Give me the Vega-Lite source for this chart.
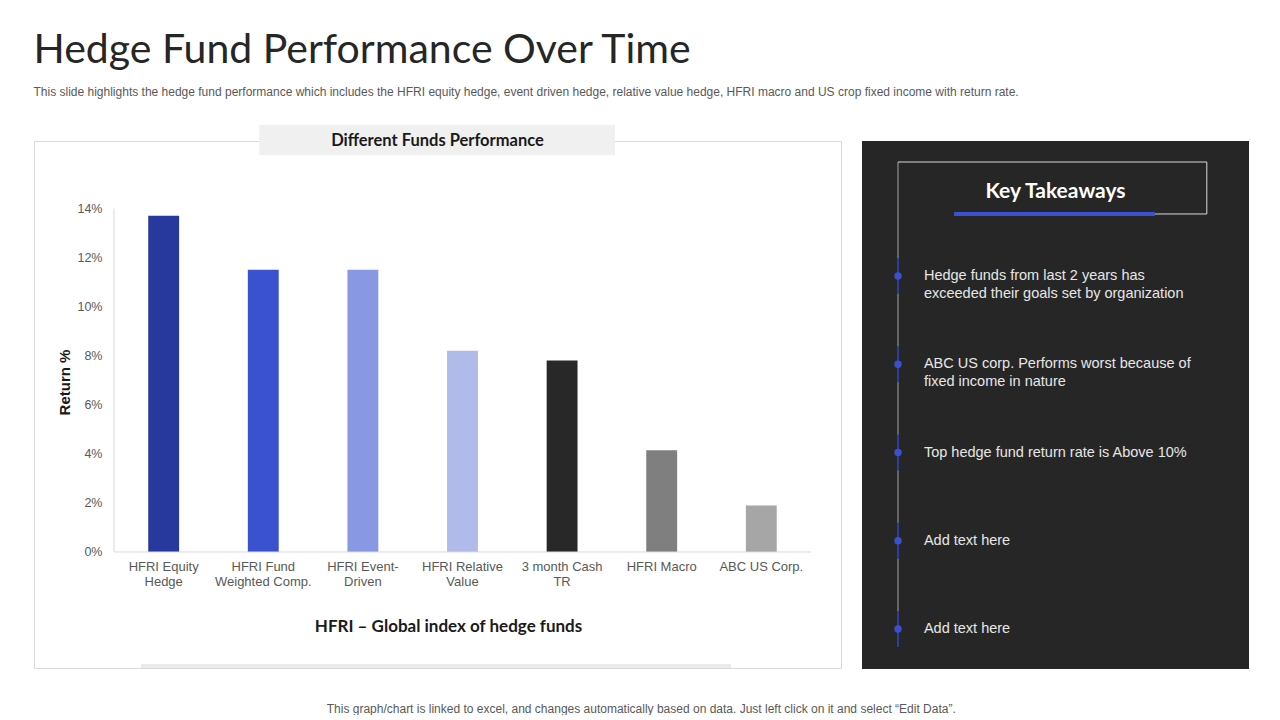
{
  "$schema": "https://vega.github.io/schema/vega-lite/v6.json",
  "background": "#ffffff",
  "padding": {"left": 33, "top": 29, "right": 0, "bottom": 0},
  "title": {
    "text": "Hedge Fund Performance Over Time",
    "subtitle": "This slide highlights the hedge fund performance which includes the HFRI equity hedge, event driven hedge, relative value hedge, HFRI macro and US crop fixed income with return rate.",
    "anchor": "start",
    "font": "Lato",
    "fontSize": 41,
    "fontWeight": "normal",
    "color": "#262626",
    "subtitleFont": "Liberation Sans",
    "subtitleFontSize": 12,
    "subtitleColor": "#595959",
    "subtitlePadding": 15,
    "offset": 26
  },
  "vconcat": [
    {
      "title": {
        "text": "This graph/chart is linked to excel,  and changes automatically based on data. Just left click on it and select “Edit Data”.",
        "orient": "bottom",
        "anchor": "middle",
        "font": "Liberation Sans",
        "fontSize": 12,
        "fontWeight": "normal",
        "color": "#595959",
        "offset": 35
      },
      "bounds": "flush",
      "spacing": 21,
      "hconcat": [
        {
          "width": 807,
          "height": 527,
          "view": {"stroke": "#d9d9d9", "strokeWidth": 1, "fill": "#ffffff"},
          "resolve": {"scale": {"x": "independent"}},
          "layer": [
            {
              "data": {"values": [
                {"fund": "HFRI Equity Hedge", "ret": 13.7},
                {"fund": "HFRI Fund Weighted Comp.", "ret": 11.5},
                {"fund": "HFRI Event-Driven", "ret": 11.5},
                {"fund": "HFRI Relative Value", "ret": 8.2},
                {"fund": "3 month Cash TR", "ret": 7.8},
                {"fund": "HFRI Macro", "ret": 4.15},
                {"fund": "ABC US Corp.", "ret": 1.9}
              ]},
              "mark": {"type": "bar"},
              "encoding": {
                "x": {
                  "field": "fund", "type": "nominal", "sort": null,
                  "scale": {"paddingInner": 0.69, "paddingOuter": 0.896, "align": 0.64},
                  "axis": {
                    "title": "HFRI – Global index of hedge funds",
                    "offset": -116,
                    "domain": false, "ticks": false, "tickSize": 0,
                    "labelPadding": 8, "labelAngle": 0,
                    "labelFont": "Liberation Sans", "labelFontSize": 13, "labelColor": "#595959", "labelLineHeight": 15,
                    "labelExpr": "datum.label == 'HFRI Equity Hedge' ? ['HFRI Equity', 'Hedge'] : datum.label == 'HFRI Fund Weighted Comp.' ? ['HFRI Fund', 'Weighted Comp.'] : datum.label == 'HFRI Event-Driven' ? ['HFRI Event-', 'Driven'] : datum.label == 'HFRI Relative Value' ? ['HFRI Relative', 'Value'] : datum.label == '3 month Cash TR' ? ['3 month Cash', 'TR'] : datum.label",
                    "titleFont": "Lato", "titleFontSize": 17, "titleFontWeight": "bold", "titleColor": "#1a1a1a",
                    "titleX": 414, "titleY": 74, "titleBaseline": "middle", "titleAlign": "center"
                  }
                },
                "y": {
                  "field": "ret", "type": "quantitative",
                  "scale": {"domain": [-4.728, 16.751], "nice": false, "zero": false},
                  "axis": {
                    "title": "Return %",
                    "offset": -80,
                    "values": [0, 2, 4, 6, 8, 10, 12, 14],
                    "labelExpr": "datum.value + '%'",
                    "domain": false, "ticks": false, "tickSize": 0, "grid": false,
                    "labelPadding": 12,
                    "labelFont": "Liberation Sans", "labelFontSize": 12.5, "labelColor": "#595959",
                    "titleFont": "Liberation Sans", "titleFontSize": 15, "titleFontWeight": "bold", "titleColor": "#1a1a1a",
                    "titleX": -50, "titleY": 241, "titleBaseline": "middle", "titleAngle": -90, "titleAlign": "center"
                  }
                },
                "color": {
                  "field": "fund", "type": "nominal", "legend": null,
                  "scale": {
                    "domain": ["HFRI Equity Hedge", "HFRI Fund Weighted Comp.", "HFRI Event-Driven", "HFRI Relative Value", "3 month Cash TR", "HFRI Macro", "ABC US Corp."],
                    "range": ["#27399d", "#3a51d0", "#8898e2", "#b0bbea", "#282828", "#7f7f7f", "#a6a6a6"]
                  }
                }
              }
            },
            {
              "data": {"values": [{}]},
              "mark": {"type": "rect", "color": "#f0f0f0"},
              "encoding": {
                "x": {"datum": 27.9, "type": "quantitative", "scale": {"domain": [0, 100]}, "axis": null},
                "x2": {"datum": 72.0},
                "y": {"datum": 17.4, "type": "quantitative"},
                "y2": {"datum": 16.18}
              }
            },
            {
              "data": {"values": [{}]},
              "mark": {"type": "text", "font": "Lato", "fontSize": 16.5, "fontWeight": "bold", "color": "#1a1a1a", "align": "center", "baseline": "middle"},
              "encoding": {
                "x": {"datum": 50, "type": "quantitative", "scale": {"domain": [0, 100]}, "axis": null},
                "y": {"datum": 16.75, "type": "quantitative"},
                "text": {"value": "Different Funds Performance"}
              }
            },
            {
              "data": {"values": [{}]},
              "mark": {"type": "rect", "color": "#ebebeb"},
              "encoding": {
                "x": {"datum": 13.26, "type": "quantitative", "scale": {"domain": [0, 100]}, "axis": null},
                "x2": {"datum": 86.37},
                "y": {"datum": -4.56, "type": "quantitative"},
                "y2": {"datum": -4.728}
              }
            },
            {
              "data": {"values": [{}]},
              "mark": {"type": "rule", "color": "#d9d9d9", "strokeWidth": 1},
              "encoding": {
                "x": {"datum": 9.913, "type": "quantitative", "scale": {"domain": [0, 100]}, "axis": null},
                "x2": {"datum": 96.28},
                "y": {"datum": 0, "type": "quantitative"}
              }
            },
            {
              "data": {"values": [{}]},
              "mark": {"type": "rule", "color": "#d9d9d9", "strokeWidth": 1},
              "encoding": {
                "x": {"datum": 9.913, "type": "quantitative", "scale": {"domain": [0, 100]}, "axis": null},
                "y": {"datum": 0, "type": "quantitative"},
                "y2": {"datum": 14}
              }
            }
          ]
        },
        {
          "width": 387,
          "height": 528,
          "view": {"fill": "#262626", "stroke": null},
          "data": {"values": [
            {"item": 1, "text": "Hedge funds from last 2 years has\nexceeded their goals set by organization"},
            {"item": 2, "text": "ABC US corp. Performs worst because of\nfixed income in nature"},
            {"item": 3, "text": "Top hedge fund return rate is Above 10%"},
            {"item": 4, "text": "Add text here"},
            {"item": 5, "text": "Add text here"}
          ]},
          "layer": [
            {
              "data": {"values": [{}]},
              "mark": {"type": "rule", "color": "#a6a6a6", "strokeWidth": 1},
              "encoding": {
                "x": {"datum": 9.3, "type": "quantitative", "scale": {"domain": [0, 100]}, "axis": null},
                "y": {"datum": -0.292, "type": "quantitative", "scale": {"domain": [-0.53, 5.453], "reverse": true, "nice": false, "zero": false}, "axis": null},
                "y2": {"datum": 5.18}
              }
            },
            {
              "data": {"values": [{}]},
              "mark": {"type": "rule", "color": "#d9d9d9", "strokeWidth": 1},
              "encoding": {
                "x": {"datum": 9.3, "type": "quantitative"},
                "x2": {"datum": 89.1},
                "y": {"datum": -0.292, "type": "quantitative"}
              }
            },
            {
              "data": {"values": [{}]},
              "mark": {"type": "rule", "color": "#d9d9d9", "strokeWidth": 1},
              "encoding": {
                "x": {"datum": 89.1, "type": "quantitative"},
                "y": {"datum": -0.292, "type": "quantitative"},
                "y2": {"datum": 0.297}
              }
            },
            {
              "data": {"values": [{}]},
              "mark": {"type": "rule", "color": "#d9d9d9", "strokeWidth": 1},
              "encoding": {
                "x": {"datum": 75.7, "type": "quantitative"},
                "x2": {"datum": 89.1},
                "y": {"datum": 0.297, "type": "quantitative"}
              }
            },
            {
              "data": {"values": [{}]},
              "mark": {"type": "rule", "color": "#3a51d0", "strokeWidth": 4},
              "encoding": {
                "x": {"datum": 23.8, "type": "quantitative"},
                "x2": {"datum": 75.7},
                "y": {"datum": 0.297, "type": "quantitative"}
              }
            },
            {
              "data": {"values": [{}]},
              "mark": {"type": "text", "font": "Lato", "fontSize": 21, "fontWeight": "bold", "color": "#ffffff", "align": "center", "baseline": "middle"},
              "encoding": {
                "x": {"datum": 50, "type": "quantitative"},
                "y": {"datum": 0.048, "type": "quantitative"},
                "text": {"value": "Key Takeaways"}
              }
            },
            {
              "mark": {"type": "tick", "orient": "vertical", "size": 36, "thickness": 2, "color": "#2d3d9a", "opacity": 1},
              "encoding": {
                "x": {"datum": 9.3, "type": "quantitative"},
                "y": {"field": "item", "type": "quantitative"}
              }
            },
            {
              "mark": {"type": "circle", "size": 55, "color": "#3b50d0", "opacity": 1},
              "encoding": {
                "x": {"datum": 9.3, "type": "quantitative"},
                "y": {"field": "item", "type": "quantitative"}
              }
            },
            {
              "mark": {"type": "text", "font": "Liberation Sans", "fontSize": 14.5, "color": "#e6e6e6", "align": "left", "baseline": "middle", "lineBreak": "\n", "lineHeight": 18},
              "encoding": {
                "x": {"datum": 16.0, "type": "quantitative"},
                "y": {"field": "item", "type": "quantitative"},
                "text": {"field": "text", "type": "nominal"}
              }
            }
          ]
        }
      ]
    }
  ],
  "config": {
    "font": "Liberation Sans"
  }
}
